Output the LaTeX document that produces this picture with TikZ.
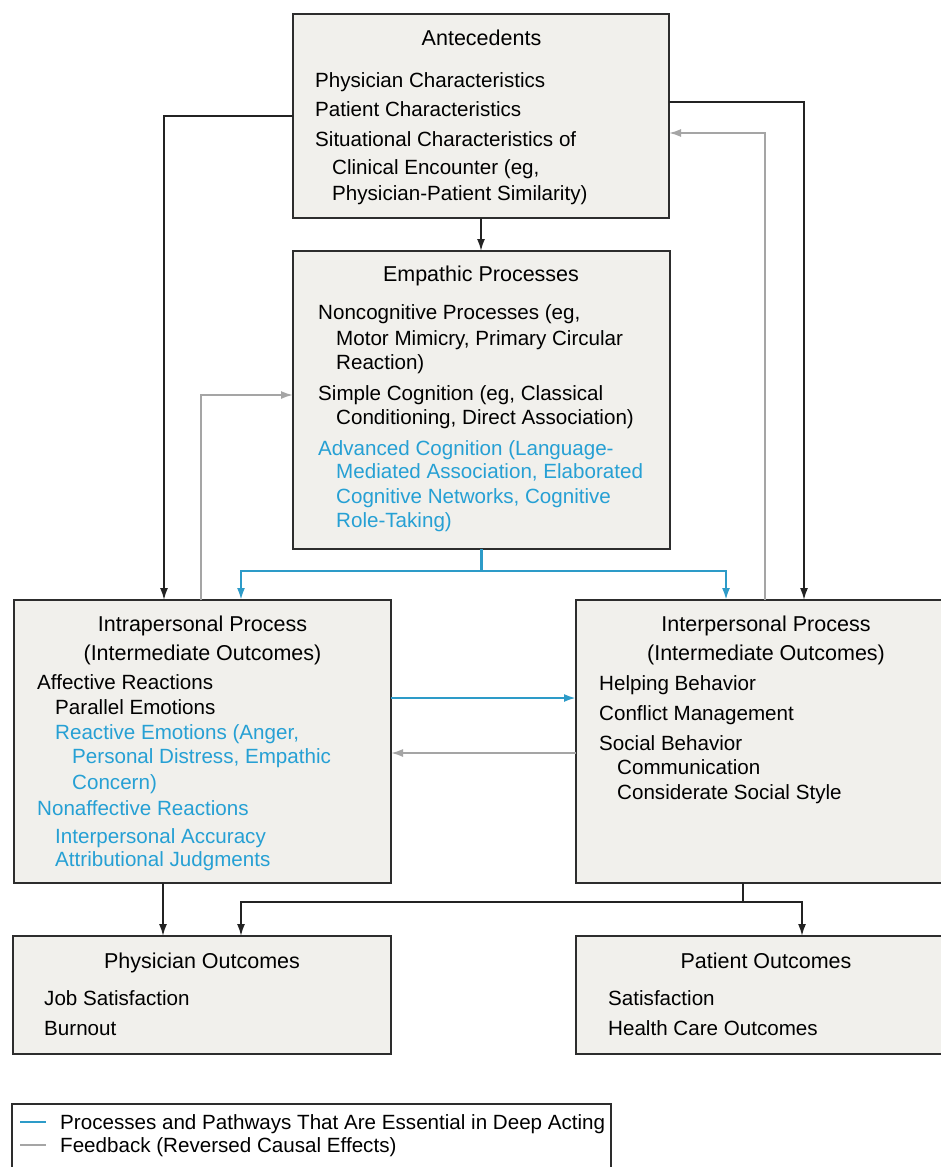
\documentclass[tikz,border=0pt]{standalone}
\usepackage{fontspec}
\setmainfont{Liberation Sans}
\usetikzlibrary{arrows.meta,calc}
\definecolor{deepblue}{RGB}{38,160,212}
\definecolor{lineblue}{RGB}{45,155,200}
\definecolor{fbgray}{RGB}{165,165,165}
\definecolor{boxfill}{RGB}{241,240,236}
\definecolor{boxline}{RGB}{45,45,45}
\definecolor{conn}{RGB}{35,35,35}
\tikzset{
  box/.style={draw=boxline,fill=boxfill,line width=2pt,inner sep=0pt,outer sep=0pt},
  body/.style={anchor=base west,inner sep=0pt,font=\fontsize{20.6}{24}\selectfont,text=black},
  bluetext/.style={body,text=deepblue},
  ttl/.style={anchor=base,inner sep=0pt,font=\fontsize{21.5}{26}\selectfont,text=black},
  tip/.style={-{Latex[length=12pt,width=8pt]}},
  blk/.style={draw=conn,line width=1.8pt},
  blu/.style={draw=lineblue,line width=2.2pt},
  fb/.style={draw=fbgray,line width=1.8pt},
}
\begin{document}
\begin{tikzpicture}[x=1pt,y=-1pt]
\useasboundingbox (0,0) rectangle (941,1167);
\clip (0,0) rectangle (941,1167);
\fill[white] (0,0) rectangle (941,1167);

% boxes
\node[box,minimum width=376pt,minimum height=204pt] (ante) at (481,116) {};
\node[box,minimum width=377pt,minimum height=298pt] (emp) at (481.5,400) {};
\node[box,minimum width=377pt,minimum height=283pt] (intra) at (202.5,741.5) {};
\node[box,minimum width=380pt,minimum height=283pt] (inter) at (766,741.5) {};
\node[box,minimum width=378pt,minimum height=118pt] (phys) at (202,995) {};
\node[box,minimum width=380pt,minimum height=118pt] (pat) at (766,995) {};
\node[box,fill=white,minimum width=599pt,minimum height=90pt] (legend) at (311.5,1149) {};

% Antecedents
\node[ttl] (anteT) at (481.5,45) {Antecedents};
\node[body] (a1) at (315,87) {Physician Characteristics};
\node[body] (a2) at (315,116) {Patient Characteristics};
\node[body] (a3) at (315,146) {Situational Characteristics of};
\node[body] (a4) at (332,174) {Clinical Encounter (eg,};
\node[body] (a5) at (332,200) {Physician-Patient Similarity)};

% Empathic processes
\node[ttl] (empT) at (481,281) {Empathic Processes};
\node[body] (e1) at (318,319) {Noncognitive Processes (eg,};
\node[body] (e2) at (336,345) {Motor Mimicry, Primary Circular};
\node[body] (e3) at (336,369) {Reaction)};
\node[body] (e4) at (318,400) {Simple Cognition (eg, Classical};
\node[body] (e5) at (336,424) {Conditioning, Direct Association)};
\node[bluetext] (e6) at (318,455) {Advanced Cognition (Language-};
\node[bluetext] (e7) at (336,478) {Mediated Association, Elaborated};
\node[bluetext] (e8) at (336,503) {Cognitive Networks, Cognitive};
\node[bluetext] (e9) at (336,527) {Role-Taking)};

% Intrapersonal
\node[ttl] (intraT1) at (202.5,631) {Intrapersonal Process};
\node[ttl] (intraT2) at (202.5,660) {(Intermediate Outcomes)};
\node[body] (i1) at (37,689) {Affective Reactions};
\node[body] (i2) at (55,714) {Parallel Emotions};
\node[bluetext] (i3) at (55,739) {Reactive Emotions (Anger,};
\node[bluetext] (i4) at (72,763) {Personal Distress, Empathic};
\node[bluetext] (i5) at (72,789) {Concern)};
\node[bluetext] (i6) at (37,815) {Nonaffective Reactions};
\node[bluetext] (i7) at (55,843) {Interpersonal Accuracy};
\node[bluetext] (i8) at (55,866) {Attributional Judgments};

% Interpersonal
\node[ttl] (interT1) at (766,631) {Interpersonal Process};
\node[ttl] (interT2) at (766,660) {(Intermediate Outcomes)};
\node[body] (p1) at (599,690) {Helping Behavior};
\node[body] (p2) at (599,720) {Conflict Management};
\node[body] (p3) at (599,750) {Social Behavior};
\node[body] (p4) at (617,774) {Communication};
\node[body] (p5) at (617,799) {Considerate Social Style};

% Outcomes
\node[ttl] (physT) at (202,968) {Physician Outcomes};
\node[body] (o1) at (44,1005) {Job Satisfaction};
\node[body] (o2) at (44,1035) {Burnout};
\node[ttl] (patT) at (766,968) {Patient Outcomes};
\node[body] (o3) at (608,1005) {Satisfaction};
\node[body] (o4) at (608,1035) {Health Care Outcomes};

% Legend
\coordinate (lb1) at (20,1122);
\coordinate (lb2) at (46,1122);
\coordinate (lg1) at (20,1145);
\coordinate (lg2) at (46,1145);
\draw[blu] (lb1) -- (lb2);
\draw[fb] (lg1) -- (lg2);
\node[body] (leg1) at (60,1129) {Processes and Pathways That Are Essential in Deep Acting};
\node[body] (leg2) at (60,1152) {Feedback (Reversed Causal Effects)};

% black causal connectors from antecedents
\draw[blk,tip] (ante.west) -| ([xshift=150pt]intra.north west);
\draw[blk,tip] ([yshift=14pt]ante.east) -| ([xshift=-152pt]inter.north east);
\draw[blk,tip] (ante.south) -- (ante.south |- emp.north);

% feedback (gray)
\draw[fb,tip] ([xshift=-191pt]inter.north east) |- ([yshift=-17pt]ante.east);
\draw[fb,tip] ([xshift=187pt]intra.north west) |- ([yshift=5pt]emp.west);
\draw[fb,tip] ([yshift=-11.5pt]inter.west) -- ([yshift=-11.5pt]intra.east);

% deep acting (blue)
\coordinate (split) at ($(emp.south)+(0,22)$);
\draw[blu] (emp.south) -- (split);
\draw[blu,tip] (split) -| ([xshift=227pt]intra.north west);
\draw[blu,tip] (split) -| ([xshift=-230pt]inter.north east);
\draw[blu,tip] ([yshift=43.5pt]intra.east) -- ([yshift=43.5pt]inter.west);

% to outcomes
\coordinate (idrop) at ([xshift=149pt]intra.south west);
\draw[blk,tip] (idrop) -- (idrop |- phys.north);
\coordinate (join) at ($([xshift=-213pt]inter.south east)+(0,19)$);
\draw[blk] ([xshift=-213pt]inter.south east) -- (join);
\draw[blk,tip] (join) -| ([xshift=228pt]phys.north west);
\draw[blk,tip] (join) -| ([xshift=-154pt]pat.north east);
\end{tikzpicture}
\end{document}
